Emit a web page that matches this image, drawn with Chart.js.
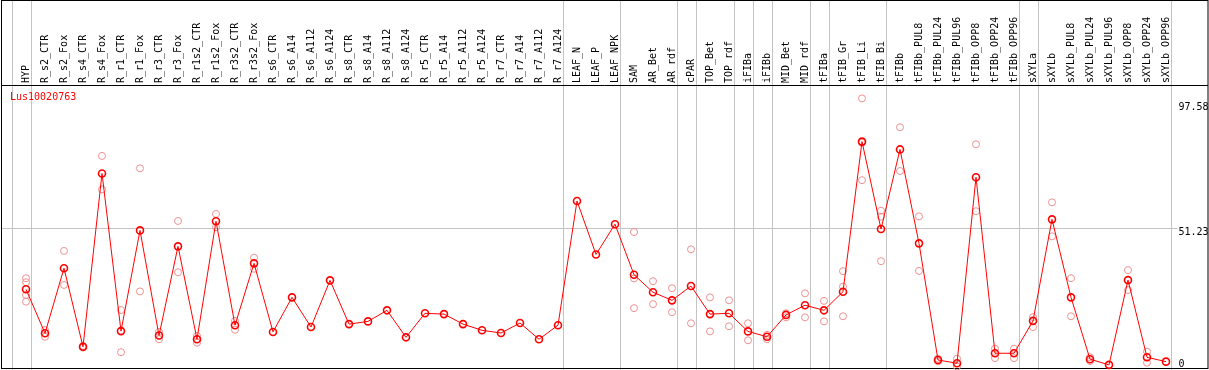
<!DOCTYPE html>
<html>
<head>
<meta charset="utf-8">
<script src="https://cdn.jsdelivr.net/npm/chart.js@4/dist/chart.umd.min.js"></script>
<style>
    body { margin: 0; background: #fff; }
    canvas { display: block; }
</style>
</head>
<body>
<canvas id="exprChart" width="1209" height="370"></canvas>
<script>
const geneName = 'Lus10020763';

const categories = [
    'HYP', 'R_s2_CTR', 'R_s2_Fox', 'R_s4_CTR', 'R_s4_Fox', 'R_r1_CTR', 'R_r1_Fox', 'R_r3_CTR', 'R_r3_Fox',
    'R_r1s2_CTR', 'R_r1s2_Fox', 'R_r3s2_CTR', 'R_r3s2_Fox', 'R_s6_CTR', 'R_s6_A14', 'R_s6_A112', 'R_s6_A124',
    'R_s8_CTR', 'R_s8_A14', 'R_s8_A112', 'R_s8_A124', 'R_r5_CTR', 'R_r5_A14', 'R_r5_A112', 'R_r5_A124',
    'R_r7_CTR', 'R_r7_A14', 'R_r7_A112', 'R_r7_A124', 'LEAF_N', 'LEAF_P', 'LEAF_NPK', 'SAM', 'AR_Bet', 'AR_rdf',
    'cPAR', 'TOP_Bet', 'TOP_rdf', 'iFIBa', 'iFIBb', 'MID_Bet', 'MID_rdf', 'tFIBa', 'tFIB_Gr', 'tFIB_Li', 'tFIB_Bi',
    'tFIBb', 'tFIBb_PUL8', 'tFIBb_PUL24', 'tFIBb_PUL96', 'tFIBb_OPP8', 'tFIBb_OPP24', 'tFIBb_OPP96',
    'sXYLa', 'sXYLb', 'sXYLb_PUL8', 'sXYLb_PUL24', 'sXYLb_PUL96', 'sXYLb_OPP8', 'sXYLb_OPP24', 'sXYLb_OPP96'
];

// mean expression per sample (the connected line)
const meanValues = [
    28.6, 12.3, 36.4, 7.3, 71.5, 13.1, 50.4, 11.5, 44.5, 10.1, 53.8, 15.3, 38.2, 12.8, 25.6, 14.6,
    31.9, 15.7, 16.7, 20.8, 10.8, 19.7, 19.4, 15.7, 13.4, 12.4, 16.1, 10.1, 15.3, 61.3, 41.5, 52.7,
    34.0, 27.5, 24.5, 29.8, 19.4, 19.7, 13.0, 11.0, 19.1, 22.7, 20.8, 27.7, 83.3, 50.9, 80.4, 45.6,
    2.4, 1.2, 70.1, 4.9, 4.9, 16.9, 54.5, 25.6, 2.7, 0.6, 32.0, 3.4, 1.8
];

// individual replicates (light circles)
const replicateValues = [
    [32.7, 31.2, 26.5, 24.0], [13.5, 11.0], [42.8, 30.2], [7.6, 7.0], [78.0, 65.6], [20.9, 5.3],
    [73.4, 27.8], [12.8, 10.1], [53.9, 34.9], [11.3, 8.8], [56.5, 51.6], [16.9, 13.6], [40.3, 36.2],
    [], [], [], [], [], [], [], [], [], [], [], [], [], [], [], [], [], [], [],
    [49.8, 32.6, 21.6], [31.6, 23.1], [29.0, 20.1], [43.4, 16.0], [25.6, 13.0], [24.5, 14.9],
    [16.0, 9.7], [11.7, 10.1], [19.7, 18.2], [27.1, 18.2], [24.3, 16.7], [35.3, 29.6, 18.6],
    [99.3, 82.9, 69.0], [57.7, 55.5, 39.0], [88.6, 72.4], [55.6, 35.4], [2.9, 1.9], [2.9, 0.0],
    [82.3, 57.5], [6.6, 3.1], [6.6, 3.1], [18.3, 14.6], [60.8, 48.2], [32.7, 18.6], [3.4, 2.0],
    [], [35.7, 28.3], [5.5, 1.4], []
];

const yTickValues = [0, 51.23, 97.58];
const gridValue = 51.23;

// a gray separator follows each of these sample indices
const groupEnds = [-1, 0, 28, 31, 34, 35, 37, 38, 39, 41, 42, 45, 52, 53, 60];

const replicatePoints = [];
replicateValues.forEach((reps, i) => {
    reps.forEach(v => replicatePoints.push({ x: categories[i], y: v }));
});

const FONT = 'DejaVu Sans Mono';

const decorations = {
    id: 'decorations',
    beforeDatasetsDraw(chart) {
        const { ctx, scales: { x, y } } = chart;
        const step = x.getPixelForValue(1) - x.getPixelForValue(0);
        ctx.save();
        ctx.strokeStyle = '#c4c4c4';
        ctx.lineWidth = 1;
        groupEnds.forEach(i => {
            const px = Math.round(x.getPixelForValue(0) + (i + 0.25) * step) + 0.5;
            ctx.beginPath();
            ctx.moveTo(px, 0);
            ctx.lineTo(px, chart.height);
            ctx.stroke();
        });
        const gy = Math.round(y.getPixelForValue(gridValue)) + 0.5;
        ctx.beginPath();
        ctx.moveTo(1, gy);
        ctx.lineTo(chart.chartArea.right + 2, gy);
        ctx.stroke();

        ctx.strokeStyle = '#000';
        ctx.strokeRect(1.5, 0.5, 1206.5, 368);
        ctx.beginPath();
        ctx.moveTo(1, 85.5);
        ctx.lineTo(1208, 85.5);
        ctx.stroke();

        ctx.fillStyle = '#ff0000';
        ctx.font = '10px "' + FONT + '"';
        ctx.textBaseline = 'middle';
        ctx.fillText(geneName, 10, 97.5);
        ctx.restore();
    }
};

new Chart(document.getElementById('exprChart'), {
    type: 'line',
    data: {
        labels: categories,
        datasets: [
            {
                data: meanValues,
                borderColor: '#ff0000',
                borderWidth: 1,
                pointStyle: 'circle',
                pointRadius: 3.5,
                pointBorderWidth: 1.6,
                pointBorderColor: '#ff0000',
                pointBackgroundColor: 'rgba(0,0,0,0)',
                fill: false,
                tension: 0,
                clip: false,
                order: 0
            },
            {
                data: replicatePoints,
                showLine: false,
                pointStyle: 'circle',
                pointRadius: 3.5,
                pointBorderWidth: 1,
                pointBorderColor: '#ee9090',
                pointBackgroundColor: 'rgba(0,0,0,0)',
                clip: false,
                order: 1
            }
        ]
    },
    options: {
        responsive: false,
        animation: false,
        layout: { autoPadding: false, padding: { left: 16.5, bottom: 1 } },
        plugins: { legend: { display: false }, tooltip: { enabled: false } },
        scales: {
            x: {
                position: 'top',
                offset: true,
                grid: { display: false, drawTicks: false },
                border: { display: false },
                ticks: {
                    autoSkip: false,
                    minRotation: 90,
                    maxRotation: 90,
                    padding: 2,
                    labelOffset: 12.5,
                    color: '#000',
                    font: { family: FONT, size: 10 }
                },
                afterFit(scale) {
                    scale.height = 85;
                    scale.paddingLeft = 0;
                    scale.paddingRight = 0;
                }
            },
            y: {
                position: 'right',
                min: -0.93,
                max: 104.26,
                grid: { display: false, drawTicks: false },
                border: { display: false },
                afterBuildTicks(scale) {
                    scale.ticks = yTickValues.map(v => ({ value: v }));
                },
                ticks: {
                    padding: 3,
                    labelOffset: 4,
                    color: '#000',
                    font: { family: FONT, size: 10 },
                    // the bottom label is lifted so it stays inside the frame
                    callback: v => (v === 0 ? ['0', ''] : v.toFixed(2))
                },
                afterFit(scale) {
                    scale.width = 33.5;
                    scale.paddingTop = 0;
                    scale.paddingBottom = 0;
                }
            }
        }
    },
    plugins: [decorations]
});
</script>
</body>
</html>
